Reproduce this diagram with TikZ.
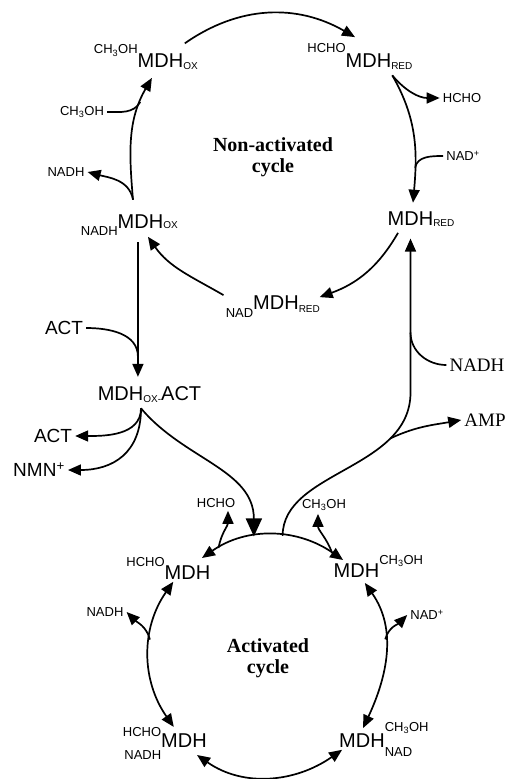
\documentclass[tikz,border=0pt]{standalone}
\usepackage{fontspec}
\setmainfont{Liberation Serif}
\setsansfont{Liberation Sans}
\usetikzlibrary{arrows.meta}
\newcommand{\tagsize}{\fontsize{13}{13}\selectfont}
\newcommand{\statesize}{\fontsize{10}{10}\selectfont}
\newcommand{\supleft}[2][13pt]{\llap{\smash{\raisebox{#1}{\tagsize #2}}}}
\newcommand{\subleft}[2][-9pt]{\llap{\smash{\raisebox{#1}{\tagsize #2}}}}
\newcommand{\supright}[2][13pt]{\rlap{\smash{\raisebox{#1}{\tagsize #2}}}}
\newcommand{\subright}[2][-9pt]{\rlap{\smash{\raisebox{#1}{\tagsize #2}}}}
\newcommand{\oxstate}[1][-2pt]{\rlap{\smash{\raisebox{#1}{\statesize OX}}}}
\newcommand{\redstate}[1][-2pt]{\rlap{\smash{\raisebox{#1}{\statesize RED}}}}
\newcommand{\meoh}{CH\textsubscript{3}OH}

\begin{document}
\begin{tikzpicture}[x=1pt,y=1pt,font=\sffamily,
    enzyme/.style={inner sep=0pt,font=\sffamily\fontsize{20}{20}\selectfont},
    minor/.style={inner sep=3pt,font=\sffamily\tagsize},
    species/.style={inner sep=3pt,font=\sffamily\fontsize{19}{19}\selectfont},
    serifspecies/.style={inner sep=3pt,font=\rmfamily\fontsize{19}{19}\selectfont},
    cyclename/.style={inner sep=0pt,anchor=north,align=center,font=\rmfamily\bfseries\fontsize{20}{21}\selectfont},
    rxn/.style={line width=1.7pt,-{Triangle[length=13pt,width=11pt]}},
    rxnboth/.style={line width=1.7pt,{Triangle[length=13pt,width=11pt]}-{Triangle[length=13pt,width=11pt]}},
    bigrxn/.style={line width=1.7pt,-{Triangle[length=18pt,width=16pt]}},
    feed/.style={line width=1.7pt}]
  \useasboundingbox (0,0) rectangle (513,-779);

  % non-activated cycle
  \node[enzyme] (mox) at (160.5,-61) {\supleft[14pt]{\meoh}MDH\oxstate};
  \node[enzyme] (mredt) at (368.5,-60.5) {\supleft[15pt]{HCHO}MDH\redstate};
  \node[enzyme] (mredr) at (410.5,-218.5) {MDH\redstate[-1pt]};
  \node[enzyme] (mredb) at (276,-302.5) {\subleft[-8pt]{NAD}MDH\redstate[-3pt]};
  \node[enzyme] (moxb) at (140.5,-221.5) {\subleft[-7pt]{NADH}MDH\oxstate[0pt]};
  \node[cyclename] (nonact) at (273,-137.5) {Non-activated\\cycle};

  \node[minor] (meoh1) at (82,-112) {\meoh};
  \node[minor] (nadh1) at (66,-172) {NADH};
  \node[minor] (hcho1) at (462,-98) {HCHO};
  \node[minor] (nad1) at (463,-156) {NAD\textsuperscript{+}};

  % activation
  \node[enzyme,anchor=base] (mact) at (149.5,-400) {MDH\raisebox{-2pt}{\statesize OX-}ACT};
  \node[species] (act1) at (64,-328) {ACT};
  \node[species] (act2) at (53,-436) {ACT};
  \node[species] (nmn) at (39,-470) {NMN\textsuperscript{+}};
  \node[serifspecies] (nadh2) at (477,-365) {NADH};
  \node[serifspecies] (amp) at (485,-420) {AMP};

  % activated cycle
  \node[enzyme] (mhcho) at (187.5,-572.5) {\supleft{HCHO}MDH};
  \node[enzyme] (mmeoh) at (356.5,-570.5) {MDH\supright{\meoh}};
  \node[enzyme] (mnad) at (362,-740.5) {MDH\supright[16pt]{\meoh}\subright{NAD}};
  \node[enzyme] (mnadh) at (184,-740.5) {\supleft[11pt]{HCHO}\subleft[-12pt]{NADH}MDH};
  \node[cyclename] (act) at (268,-638) {Activated\\cycle};

  \node[minor] (hcho2) at (216,-503) {HCHO};
  \node[minor] (meoh2) at (324,-505) {\meoh};
  \node[minor] (nadh3) at (105,-612) {NADH};
  \node[minor] (nad2) at (427,-615) {NAD\textsuperscript{+}};

  \coordinate (acttop) at ([yshift=9pt]mact.north);
  \coordinate (split) at ([xshift=-8.5pt,yshift=-6pt]mact.south);
  \coordinate (bend) at ([yshift=-167pt]mredr.south);

  \draw[rxn] ([shift={(36:30)}]mox.center) to[out=35,in=150] ([shift={(120:27)}]mredt.center);
  \draw[rxn] ([shift={(-32:28)}]mredt.center) to[out=-60,in=85] coordinate[pos=0.75] (jnad1) ([shift={(81:16)}]mredr.center);
  \draw[rxn] ([shift={(-32:28)}]mredt.center) to[out=-50,in=180] (hcho1.west);
  \draw[feed] (nad1.west) to[out=180,in=80] (jnad1);
  \draw[rxn] ([shift={(-131:19)}]mredr.center) to[out=-120,in=20] ([shift={(7:44)}]mredb.center);
  \draw[rxn] ([shift={(172:53)}]mredb.center) to[out=150,in=-55] ([shift={(-64:17)}]moxb.center);
  \draw[rxn] ([shift={(109:23)}]moxb.center) to[out=95,in=-120] coordinate[pos=0.8] (jmeoh1) ([shift={(-117:19)}]mox.center);
  \draw[rxn] ([shift={(109:23)}]moxb.center) to[out=100,in=-15] (nadh1.east);
  \draw[feed] (meoh1.east) to[out=0,in=-120] (jmeoh1);

  \draw[rxn] ([shift={(-97:21)}]moxb.center) coordinate (oxdown) -- coordinate[pos=0.85] (jact) (oxdown |- acttop);
  \draw[feed] (act1.east) to[out=0,in=90] (jact);

  \draw[rxnboth] ([shift={(45:20.5)}]mhcho.center) to[out=35,in=145] coordinate[pos=0.12] (jhcho) coordinate[pos=0.37] (jin) coordinate[pos=0.57] (jout) coordinate[pos=0.92] (jmeoh2) ([shift={(142:17)}]mmeoh.center);
  \draw[rxnboth] ([shift={(213:17)}]mhcho.center) to[out=-125,in=125] coordinate[pos=0.4] (jnadh3) ([shift={(127:17)}]mnadh.center);
  \draw[rxnboth] ([shift={(-56:15)}]mmeoh.center) to[out=-55,in=65] coordinate[pos=0.4] (jnad2) ([shift={(85:12.5)}]mnad.center);
  \draw[rxnboth] ([shift={(-48:19.5)}]mnadh.center) to[out=-35,in=-145] ([shift={(-155:22)}]mnad.center);
  \draw[rxn] (jhcho) to[out=80,in=-90] ([xshift=12pt]hcho2.south);
  \draw[rxn] (jmeoh2) to[out=110,in=-90] ([xshift=-6pt]meoh2.south);
  \draw[rxn] (jnadh3) to[out=105,in=-45] (nadh3.east);
  \draw[rxn] (jnad2) to[out=75,in=-135] (nad2.west);

  \draw[rxn] (split) to[out=-90,in=0] (act2.east);
  \draw[rxn] (split) to[out=-90,in=0,looseness=1.2] (nmn.east);
  \draw[bigrxn] (split) to[out=-50,in=90] (jin);

  \draw[rxn] (jout) .. controls +(0,65) and +(0,-77) .. (bend) coordinate[pos=0.75] (jamp) -- coordinate[pos=0.39] (jnadh2) ([yshift=-13pt]mredr.south);
  \draw[rxn] (jamp) to[out=25,in=190] (amp.west);
  \draw[feed] (nadh2.west) to[out=180,in=-90] (jnadh2);
\end{tikzpicture}
\end{document}
